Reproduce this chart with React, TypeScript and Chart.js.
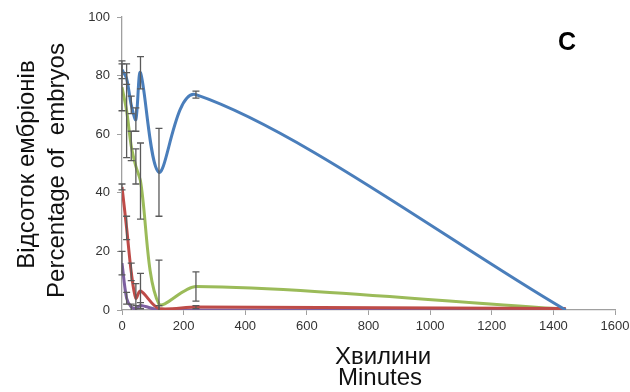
import React, { useEffect, useRef } from "react";
import { Chart, registerables } from "chart.js";

Chart.register(...registerables);

const minutes = [0, 15, 30, 45, 60, 120, 240, 1440];
const blueValues = [82, 79, 70, 65, 81, 47, 73.5, 0];
const blueErrors = [3, 2, 3, 4, 5.5, 15, 1.2, 0];
const redValues = [42, 28, 13, 4, 6.5, 0.5, 1, 0.5];
const redErrors = [1, 4, 3, 5, 6, 1, 0.5, 0];
const greenValues = [76, 68, 56, 49, 44, 2, 8, 0.3];
const greenErrors = [8, 16, 5, 6, 13, 15, 5, 0];
const purpleValues = [16, 4, 1, 0.5, 1.5, 0, 0, 0];
const purpleErrors = [4, 2, 1, 1, 1, 0, 0, 0];
const xTicks = [0, 200, 400, 600, 800, 1000, 1200, 1400, 1600];
const yTicks = [0, 20, 40, 60, 80, 100];

const yTitle = ["Відсоток ембріонів", "Percentage of  embryos"];
const xTitle = ["Хвилини", "Minutes"];
const panelLetter = "C";

const FONT = "'Liberation Sans', Arial, sans-serif";

const errorBarPlugin = {
  id: "errorBars",
  afterDatasetsDraw(chart: any) {
    const ctx = chart.ctx;
    const xs = chart.scales.x;
    const ys = chart.scales.y;
    ctx.save();
    ctx.strokeStyle = "#5a5a5a";
    ctx.lineWidth = 1.3;
    chart.data.datasets.forEach((ds: any) => {
      const errs: number[] = ds.errors || [];
      ds.data.forEach((p: any, i: number) => {
        const e = errs[i];
        if (!e) return;
        const x = xs.getPixelForValue(p.x);
        const top = ys.getPixelForValue(Math.min(100, p.y + e));
        const bot = ys.getPixelForValue(Math.max(0, p.y - e));
        ctx.beginPath();
        ctx.moveTo(x, top);
        ctx.lineTo(x, bot);
        ctx.moveTo(x - 3.5, top);
        ctx.lineTo(x + 3.5, top);
        if (p.y - e > 0) {
          ctx.moveTo(x - 3.5, bot);
          ctx.lineTo(x + 3.5, bot);
        }
        ctx.stroke();
      });
    });
    ctx.restore();
  },
};

const textPlugin = {
  id: "texts",
  afterDraw(chart: any) {
    const ctx = chart.ctx;
    const area = chart.chartArea;
    ctx.save();
    ctx.fillStyle = "#111";
    ctx.font = `24px ${FONT}`;
    ctx.textAlign = "center";
    ctx.textBaseline = "middle";
    const cy = area.top + (area.bottom - area.top) / 2;
    ctx.save();
    ctx.translate(27, cy + 1);
    ctx.rotate(-Math.PI / 2);
    ctx.fillText(yTitle[0], 0, 0);
    ctx.restore();
    ctx.save();
    ctx.translate(57, cy + 7);
    ctx.rotate(-Math.PI / 2);
    ctx.fillText(yTitle[1], 0, 0);
    ctx.restore();
    ctx.font = `24px ${FONT}`;
    ctx.fillText(xTitle[0], 383, 357);
    ctx.fillText(xTitle[1], 380, 378);
    ctx.font = `bold 25px ${FONT}`;
    ctx.fillStyle = "#000";
    ctx.fillText(panelLetter, 567, 43);
    ctx.restore();
  },
};

function series(values: number[]) {
  return values.map((v, i) => ({ x: minutes[i], y: v }));
}

export default function App() {
  const ref = useRef<HTMLCanvasElement>(null);
  useEffect(() => {
    if (!ref.current) return;
    const mk = (label: string, values: number[], errors: number[], color: string) => ({
      label,
      data: series(values),
      errors,
      borderColor: color,
      backgroundColor: color,
      borderWidth: 3,
      pointRadius: 0,
      tension: 0.3,
      fill: false,
    });
    const chart = new Chart(ref.current, {
      type: "line",
      data: {
        datasets: [
          mk("blue", blueValues, blueErrors, "#4a7ebb"),
          mk("red", redValues, redErrors, "#be4b48"),
          mk("green", greenValues, greenErrors, "#9bbb59"),
          mk("purple", purpleValues, purpleErrors, "#7d60a0"),
        ] as any,
      },
      options: {
        animation: false,
        responsive: false,
        maintainAspectRatio: false,
        layout: { padding: { left: 0, right: 15, top: 17, bottom: 0 } },
        plugins: { legend: { display: false }, tooltip: { enabled: false } },
        scales: {
          x: {
            type: "linear",
            min: 0,
            max: 1600,
            afterBuildTicks: (s: any) => {
              s.ticks = xTicks.map((v) => ({ value: v }));
            },
            afterFit: (s: any) => {
              s.height = 82;
              s.paddingLeft = 0;
              s.paddingRight = 0;
            },
            border: { display: true, color: "#a0a0a0", width: 1.3 },
            grid: { drawOnChartArea: false, drawTicks: true, tickLength: 5, color: "#a0a0a0" },
            ticks: {
              color: "#333",
              font: { family: FONT, size: 13 },
              padding: 4,
              maxRotation: 0,
              autoSkip: false,
              callback: (v: any) => String(v),
            },
          },
          y: {
            type: "linear",
            min: 0,
            max: 100,
            afterBuildTicks: (s: any) => {
              s.ticks = yTicks.map((v) => ({ value: v }));
            },
            afterFit: (s: any) => {
              s.width = 122;
              s.paddingTop = 0;
              s.paddingBottom = 0;
            },
            border: { display: true, color: "#a0a0a0", width: 1.3 },
            grid: { drawOnChartArea: false, drawTicks: true, tickLength: 5, color: "#a0a0a0" },
            ticks: { color: "#333", font: { family: FONT, size: 13 }, padding: 7, callback: (v: any) => String(v) },
          },
        },
      },
      plugins: [errorBarPlugin, textPlugin],
    });
    return () => chart.destroy();
  }, []);
  return (
    <div style={{ position: "absolute", left: 0, top: 0, width: 630, height: 392, background: "#fff" }}>
      <canvas ref={ref} width={630} height={392} style={{ width: 630, height: 392 }} />
    </div>
  );
}
